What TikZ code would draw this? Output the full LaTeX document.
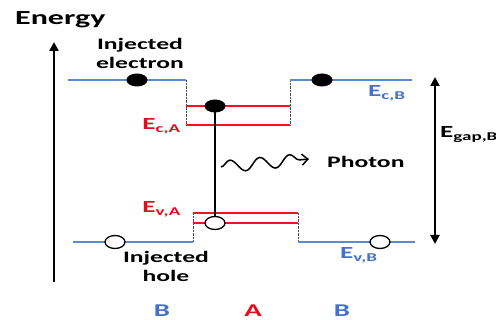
\documentclass[tikz,border=0pt]{standalone}
\usepackage{fontspec}
\setmainfont{Carlito}[FakeStretch=1.6]
\usetikzlibrary{arrows.meta,shapes.geometric,decorations.pathmorphing}
\definecolor{bandblue}{RGB}{91,141,206}
\definecolor{textblue}{RGB}{68,114,196}
\definecolor{bandred}{RGB}{240,20,30}
\definecolor{textred}{RGB}{225,15,30}
\tikzset{
  lbl/.style={font=\bfseries\fontsize{16}{19}\selectfont, align=center, inner sep=0pt},
  elbl/.style={font=\bfseries\fontsize{17}{19}\selectfont, inner sep=0pt},
  regionlbl/.style={font=\bfseries\fontsize{18}{20}\selectfont, inner sep=0pt, anchor=base},
  bandB/.style={draw=bandblue, line width=1.8pt},
  bandA/.style={draw=bandred, line width=2.2pt},
  offset/.style={draw=black!70, line width=0.9pt, dash pattern=on 0.7pt off 0.7pt},
  electron/.style={ellipse, fill=black, minimum width=21pt, minimum height=13pt, inner sep=0pt},
  hole/.style={ellipse, draw=black, line width=1.3pt, fill=white, minimum width=20pt, minimum height=13pt, inner sep=0pt},
  axis/.style={line width=2.8pt, -{Triangle[length=9pt,width=9pt]}}
}

\begin{document}
\begin{tikzpicture}[x=1pt, y=-1pt]
  \useasboundingbox (0,0) rectangle (496,320);
  \node[font=\bfseries\fontsize{20}{22}\selectfont, anchor=base west, inner sep=0pt] (energy) at (15,25) {Energy};
  \coordinate (ebot) at (54,282);
  \coordinate (etop) at (54,42);
  \draw[axis] (ebot) -- (etop);

  \coordinate (cbl0) at (68,80);  \coordinate (cbl1) at (186,80);
  \coordinate (cbr0) at (290,80); \coordinate (cbr1) at (412,80);
  \coordinate (caT0) at (186,106); \coordinate (caT1) at (290,106);
  \coordinate (caB0) at (186,125); \coordinate (caB1) at (290,125);
  \coordinate (vaT0) at (193,213); \coordinate (vaT1) at (298,213);
  \coordinate (vaB0) at (193,223); \coordinate (vaB1) at (298,223);
  \coordinate (vbl0) at (73,242);  \coordinate (vbl1) at (193,242);
  \coordinate (vbr0) at (298,242); \coordinate (vbr1) at (415,242);

  \draw[offset] (cbl1) -- (caB0);
  \draw[offset] (cbr0) -- (caB1);
  \draw[offset] (vaT0) -- (vbl1);
  \draw[offset] (vaT1) -- (vbr0);
  \draw[bandB] (cbl0) -- (cbl1);
  \draw[bandB] (cbr0) -- (cbr1);
  \draw[bandB] (vbl0) -- (vbl1);
  \draw[bandB] (vbr0) -- (vbr1);
  \draw[bandA] (caT0) -- (caT1);
  \draw[bandA] (caB0) -- (caB1);
  \draw[bandA] (vaT0) -- (vaT1);
  \draw[bandA] (vaB0) -- (vaB1);

  \node[electron] (e1) at (137,80) {};
  \node[electron] (e2) at (322,80) {};
  \node[electron] (e3) at (215,106) {};
  \node[hole] (h3) at (215,223) {};
  \node[hole] (h1) at (115,242) {};
  \node[hole] (h2) at (380,242) {};
  \draw[line width=2.6pt] (e3.center) -- (h3);

  \coordinate (ph0) at (221,167);
  \coordinate (ph1) at (309,159);
  \draw[line width=1.5pt, -{Straight Barb[length=6pt,width=11pt]}, decorate,
    decoration={snake, segment length=30pt, amplitude=6pt, post length=6pt}] (ph0) -- (ph1);
  \node[lbl, anchor=base west] (photon) at (327,168) {Photon};

  \coordinate (gtop) at (435,77);
  \coordinate (gbot) at (435,244);
  \draw[line width=2.2pt, {Triangle[length=9pt,width=9pt]}-{Triangle[length=9pt,width=9pt]}] (gtop) -- (gbot);
  \node[elbl, anchor=base west] (egap) at (440,138) {E\textsubscript{gap,B}};

  \node[lbl] (injel) at (140,53) {Injected\\electron};
  \node[lbl] (injho) at (166,266) {Injected\\hole};
  \node[elbl, textred, anchor=base east] (eca) at (181,130) {E\textsubscript{c,A}};
  \node[elbl, textred, anchor=base east] (eva) at (181,213) {E\textsubscript{v,A}};
  \node[elbl, textblue, anchor=base west] (ecb) at (368,97) {E\textsubscript{c,B}};
  \node[elbl, textblue, anchor=base west] (evb) at (340,259) {E\textsubscript{v,B}};

  \node[regionlbl, textblue] (regB1) at (162,317) {B};
  \node[regionlbl, textred] (regA) at (253,317) {A};
  \node[regionlbl, textblue] (regB2) at (342,317) {B};
\end{tikzpicture}
\end{document}
